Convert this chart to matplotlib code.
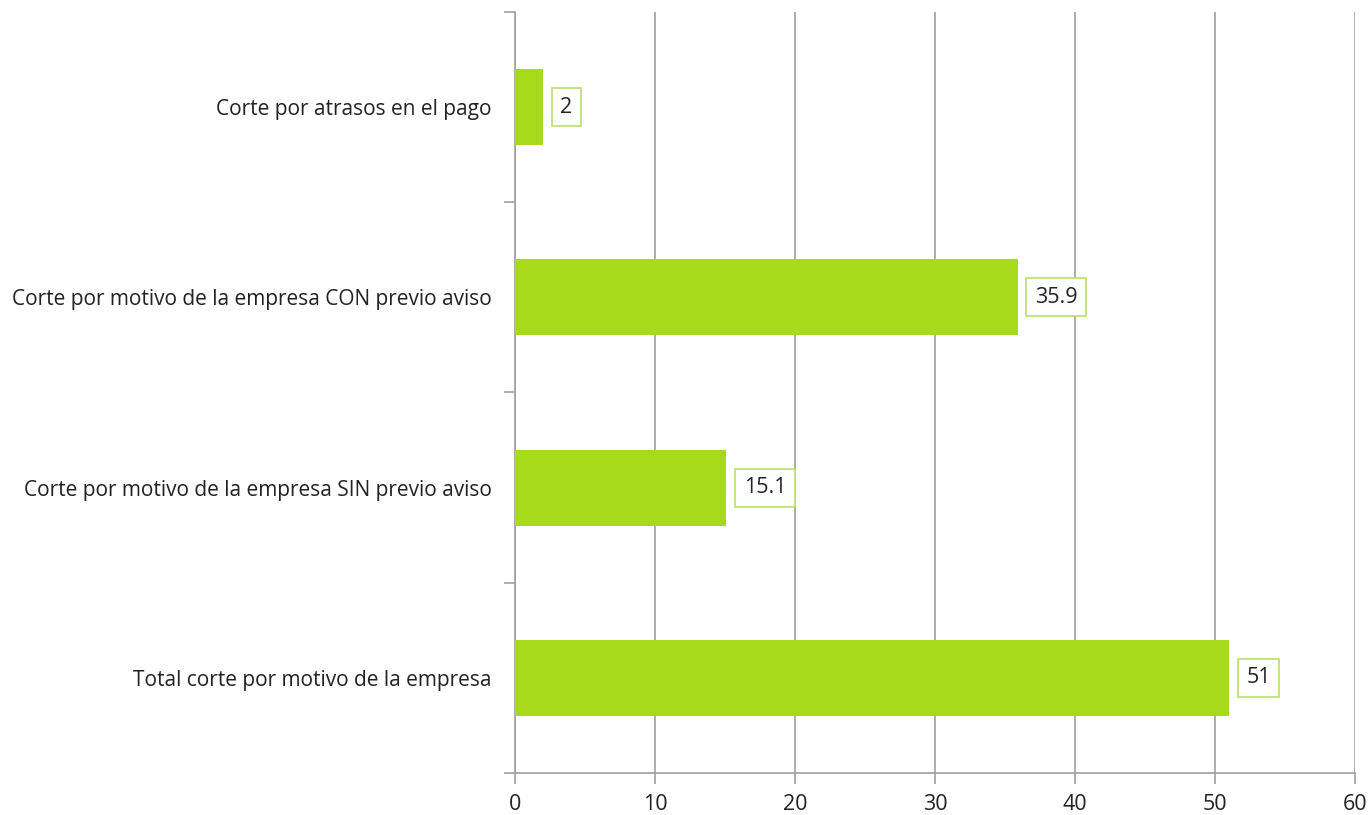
import matplotlib
matplotlib.use("Agg")
import matplotlib.pyplot as plt
from matplotlib.ticker import FixedLocator

categories = [
    "Corte por atrasos en el pago",
    "Corte por motivo de la empresa CON previo aviso",
    "Corte por motivo de la empresa SIN previo aviso",
    "Total corte por motivo de la empresa",
]
values = [2, 35.9, 15.1, 51]
labels = ["2", "35.9", "15.1", "51"]
xticks = [0, 10, 20, 30, 40, 50, 60]

plt.rcParams['font.family'] = ['Open Sans', 'DejaVu Sans']

fig = plt.figure(figsize=(13.71, 8.15), dpi=100)
ax = fig.add_axes([515/1371, 1-773/815, (1355-515)/1371, (773-12)/815])

ypos = list(range(len(categories)))
ax.barh(ypos, values, height=0.4, color="#a6da1b", zorder=3)
ax.set_ylim(len(categories)-0.5, -0.5)
ax.set_xlim(0, 60)
ax.set_xticks(xticks)
ax.set_xticklabels([str(t) for t in xticks], fontsize=15.5, color="#222222")
ax.set_yticks(ypos)
ax.set_yticklabels(categories, fontsize=15, color="#222222")
ax.yaxis.set_minor_locator(FixedLocator([-0.5, 0.5, 1.5, 2.5, 3.5]))
ax.tick_params(axis='y', which='major', length=0, pad=17)
ax.tick_params(axis='y', which='minor', length=8, color="#a0a0a0", width=1.2)
ax.tick_params(axis='x', which='major', length=8, color="#a0a0a0", width=1.2, pad=7)

ax.grid(axis='x', color="#a0a0a0", linewidth=1.2, zorder=0)
for s in ['top', 'right']:
    ax.spines[s].set_visible(False)
for s in ['left', 'bottom']:
    ax.spines[s].set_color("#a0a0a0")
    ax.spines[s].set_linewidth(1.2)

for y, v, lab in zip(ypos, values, labels):
    ax.annotate(lab, (v, y), xytext=(12.5, 0), textcoords='offset points',
                va='center', ha='left', fontsize=15.5, color="#222222",
                bbox=dict(boxstyle='square,pad=0.4', fc='white', ec='#b8e26a', lw=1.2),
                zorder=4)

fig.savefig("out.png", dpi=100)
